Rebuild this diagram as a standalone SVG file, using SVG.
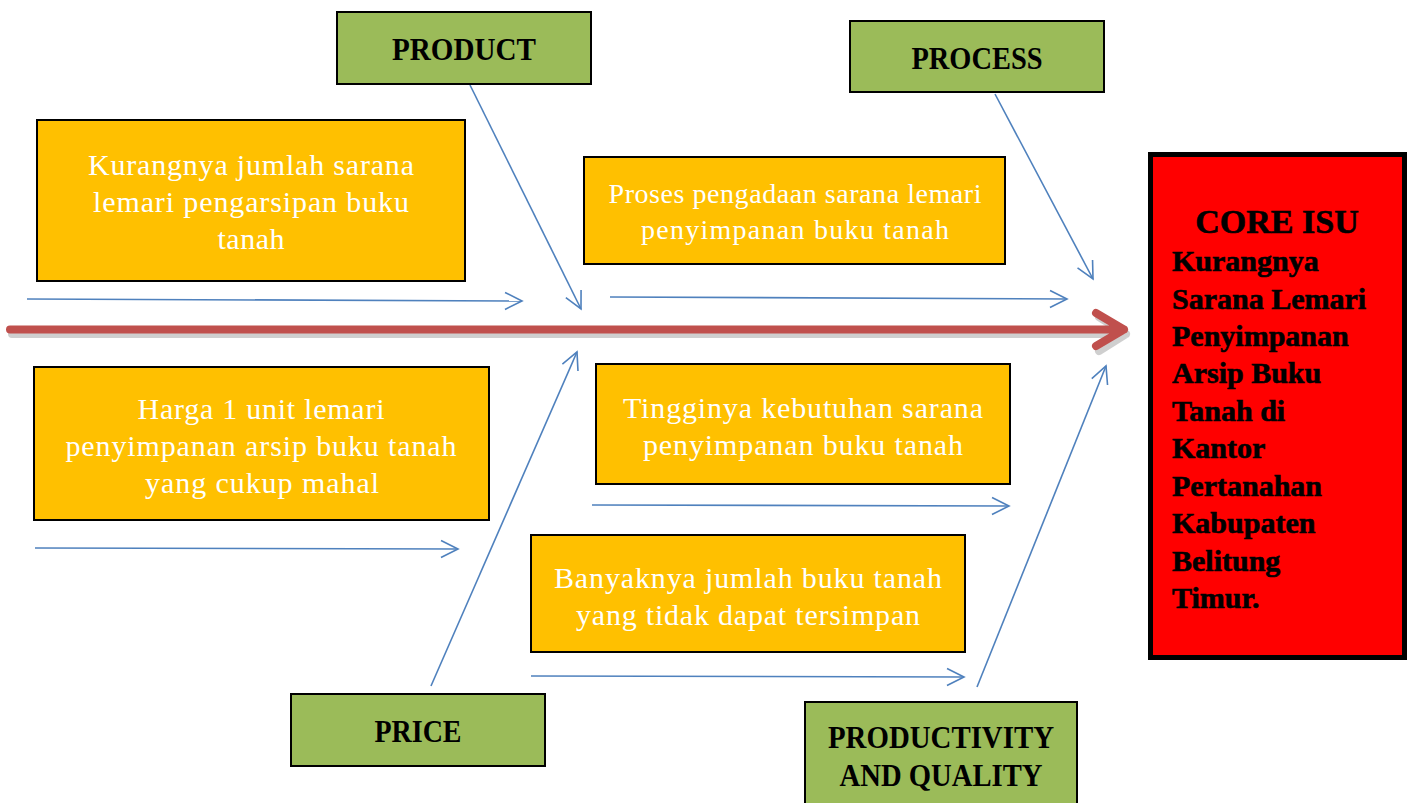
<svg xmlns="http://www.w3.org/2000/svg" width="1411" height="803" viewBox="0 0 1411 803">
<style>
.g{fill:#9BBB59;stroke:#000;stroke-width:2}
.o{fill:#FFC000;stroke:#000;stroke-width:2}
.gt{font-family:"Liberation Serif",serif;font-weight:bold;font-size:32px;fill:#000;text-anchor:middle}
.ot{font-family:"Liberation Serif",serif;font-size:30px;fill:#fff;text-anchor:middle}
.ct{font-family:"Liberation Serif",serif;font-weight:bold;font-size:30px;fill:#000;stroke:#000;stroke-width:0.6}
.b{stroke:#4F81BD;stroke-width:1.6;fill:none;marker-end:url(#ah)}
</style>
<defs>
<marker id="ah" viewBox="0 0 20 20" refX="18" refY="10" markerWidth="20" markerHeight="20" markerUnits="userSpaceOnUse" orient="auto">
<path d="M1,1.5 L18,10 L1,18.5" fill="none" stroke="#4F81BD" stroke-width="1.6"/>
</marker>
</defs>
<rect width="1411" height="803" fill="#fff"/>
<g id="spine">
<path d="M12,334 L1126,334 M1099,317 L1126,334 L1099,351" stroke="#bbb" stroke-width="8" fill="none" stroke-linecap="round" stroke-linejoin="round" opacity="0.7"/>
<path d="M10,329.5 L1124,329.5 M1096,313 L1124,329.5 L1096,346" stroke="#C0504D" stroke-width="8" fill="none" stroke-linecap="round" stroke-linejoin="round"/>
</g>
<g id="connectors">
<line class="b" x1="27" y1="299" x2="522" y2="301"/>
<line class="b" x1="470" y1="85" x2="581" y2="309"/>
<line class="b" x1="610" y1="297" x2="1067" y2="299"/>
<line class="b" x1="995" y1="94" x2="1093" y2="279"/>
<line class="b" x1="431" y1="686" x2="577" y2="352"/>
<line class="b" x1="35" y1="548" x2="458" y2="549"/>
<line class="b" x1="592" y1="505" x2="1009" y2="506"/>
<line class="b" x1="531" y1="676" x2="964" y2="677"/>
<line class="b" x1="977" y1="687" x2="1106" y2="366"/>
</g>
<g id="product"><rect class="g" x="337" y="12" width="254" height="72"/><text class="gt" x="464" y="60" textLength="144" lengthAdjust="spacingAndGlyphs">PRODUCT</text></g>
<g id="process"><rect class="g" x="850" y="21" width="254" height="71"/><text class="gt" x="977" y="69" textLength="131" lengthAdjust="spacingAndGlyphs">PROCESS</text></g>
<g id="price"><rect class="g" x="291" y="694" width="254" height="72"/><text class="gt" x="418" y="742" textLength="87" lengthAdjust="spacingAndGlyphs">PRICE</text></g>
<g id="productivity"><rect class="g" x="805" y="702" width="272" height="110"/><text class="gt" x="941" y="748" textLength="226" lengthAdjust="spacingAndGlyphs">PRODUCTIVITY</text><text class="gt" x="941" y="786" textLength="203" lengthAdjust="spacingAndGlyphs">AND QUALITY</text></g>
<g id="box1"><rect class="o" x="37" y="120" width="428" height="161"/>
<text class="ot" x="251" y="175" textLength="326">Kurangnya jumlah sarana</text>
<text class="ot" x="251" y="212" textLength="316">lemari pengarsipan buku</text>
<text class="ot" x="251" y="249" textLength="67">tanah</text></g>
<g id="box2"><rect class="o" x="584" y="157" width="421" height="107"/>
<text class="ot" x="795" y="203" style="font-size:28px" textLength="373">Proses pengadaan sarana lemari</text>
<text class="ot" x="795" y="239" style="font-size:28px" textLength="308">penyimpanan buku tanah</text></g>
<g id="box3"><rect class="o" x="34" y="367" width="455" height="153"/>
<text class="ot" x="261" y="419" textLength="247">Harga 1 unit lemari</text>
<text class="ot" x="261" y="456" textLength="391">penyimpanan arsip buku tanah</text>
<text class="ot" x="262" y="493" textLength="234">yang cukup mahal</text></g>
<g id="box4"><rect class="o" x="596" y="364" width="414" height="120"/>
<text class="ot" x="803" y="418" textLength="360">Tingginya kebutuhan sarana</text>
<text class="ot" x="803" y="455" textLength="320">penyimpanan buku tanah</text></g>
<g id="box5"><rect class="o" x="531" y="535" width="434" height="117"/>
<text class="ot" x="748" y="588" textLength="388">Banyaknya jumlah buku tanah</text>
<text class="ot" x="748" y="625" textLength="344">yang tidak dapat tersimpan</text></g>
<g id="core"><rect x="1150.5" y="154.5" width="254" height="503" fill="#FF0000" stroke="#000" stroke-width="5"/>
<text class="ct" x="1277" y="233" style="font-size:34px;text-anchor:middle">CORE ISU</text>
<text class="ct" x="1172" y="271">Kurangnya</text>
<text class="ct" x="1172" y="309">Sarana Lemari</text>
<text class="ct" x="1172" y="346">Penyimpanan</text>
<text class="ct" x="1172" y="383">Arsip Buku</text>
<text class="ct" x="1172" y="421">Tanah di</text>
<text class="ct" x="1172" y="458">Kantor</text>
<text class="ct" x="1172" y="496">Pertanahan</text>
<text class="ct" x="1172" y="533">Kabupaten</text>
<text class="ct" x="1172" y="571">Belitung</text>
<text class="ct" x="1172" y="608">Timur.</text></g>
</svg>
